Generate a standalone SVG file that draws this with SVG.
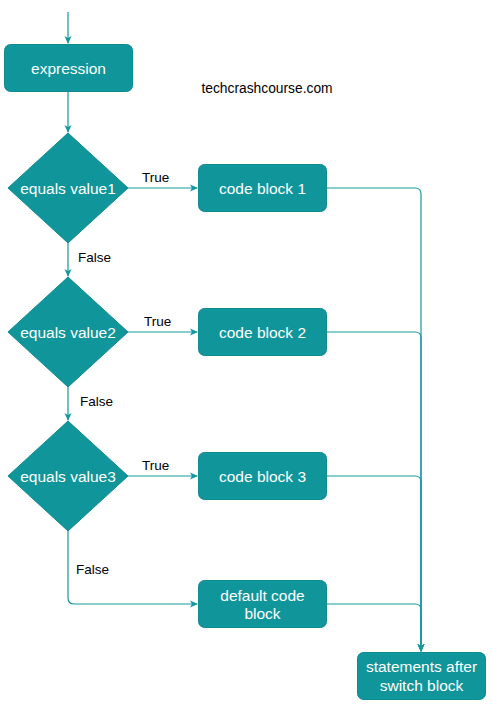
<svg xmlns="http://www.w3.org/2000/svg" width="492" height="706" viewBox="0 0 492 706">
<style>
.n{fill:#10959A;stroke:#0E8C90;stroke-width:1}
.t{font-family:"Liberation Sans",Arial,sans-serif;font-size:15.5px;fill:#fff;text-anchor:middle}
.l{font-family:"Liberation Sans",Arial,sans-serif;font-size:13.5px;fill:#000}
.c{fill:none;stroke:#14999D;stroke-width:1.2}
</style>
<defs>
<marker id="a" markerWidth="10" markerHeight="10" refX="8" refY="5" orient="auto" markerUnits="userSpaceOnUse">
<path d="M1,1.5 L9,5 L1,8.5 L3,5 Z" fill="#14999D"/>
</marker>
</defs>
<rect width="492" height="706" fill="#fff"/>
<g id="connectors">
<path class="c" d="M68,12 V43" marker-end="url(#a)"/>
<path class="c" d="M68,92 V132" marker-end="url(#a)"/>
<path class="c" d="M128,188 H197" marker-end="url(#a)"/>
<path class="c" d="M68,243 V276" marker-end="url(#a)"/>
<path class="c" d="M128,332 H197" marker-end="url(#a)"/>
<path class="c" d="M68,387 V420" marker-end="url(#a)"/>
<path class="c" d="M128,476 H197" marker-end="url(#a)"/>
<path class="c" d="M68,531 V598 Q68,604 74,604 H197" marker-end="url(#a)"/>
<path class="c" d="M327,188 H415 Q421,188 421,194 V651" marker-end="url(#a)"/>
<path class="c" d="M327,332 H415 Q421,332 421,338 V651" marker-end="url(#a)"/>
<path class="c" d="M327,476 H415 Q421,476 421,482 V651" marker-end="url(#a)"/>
<path class="c" d="M327,604 H415 Q421,604 421,610 V651" marker-end="url(#a)"/>
</g>
<g id="labels">
<text class="l" x="142" y="182">True</text>
<text class="l" x="78" y="262">False</text>
<text class="l" x="144" y="326">True</text>
<text class="l" x="80" y="406">False</text>
<text class="l" x="142" y="470">True</text>
<text class="l" x="76" y="574">False</text>
<text x="267" y="93" style="font-family:'Liberation Sans',Arial,sans-serif;font-size:13.8px;fill:#000;text-anchor:middle">techcrashcourse.com</text>
</g>
<g id="expression"><rect class="n" x="4.5" y="44.5" width="128" height="47" rx="6"/><text class="t" x="68.5" y="73.5">expression</text></g>
<g id="equals1"><path class="n" d="M68,133 L128,188 L68,243 L8,188 Z"/><text class="t" x="68" y="193.5">equals value1</text></g>
<g id="equals2"><path class="n" d="M68,277 L128,332 L68,387 L8,332 Z"/><text class="t" x="68" y="337.5">equals value2</text></g>
<g id="equals3"><path class="n" d="M68,421 L128,476 L68,531 L8,476 Z"/><text class="t" x="68" y="481.5">equals value3</text></g>
<g id="code1"><rect class="n" x="198.5" y="164.5" width="128" height="47" rx="6"/><text class="t" x="262.5" y="193.5">code block 1</text></g>
<g id="code2"><rect class="n" x="198.5" y="308.5" width="128" height="47" rx="6"/><text class="t" x="262.5" y="337.5">code block 2</text></g>
<g id="code3"><rect class="n" x="198.5" y="452.5" width="128" height="47" rx="6"/><text class="t" x="262.5" y="481.5">code block 3</text></g>
<g id="default"><rect class="n" x="198.5" y="580.5" width="128" height="47" rx="6"/><text class="t" x="262.5" y="600.5">default code</text><text class="t" x="262.5" y="619">block</text></g>
<g id="statements"><rect class="n" x="357.5" y="652.5" width="128" height="47" rx="6"/><text class="t" x="421.5" y="671.5">statements after</text><text class="t" x="421.5" y="691">switch block</text></g>
</svg>
